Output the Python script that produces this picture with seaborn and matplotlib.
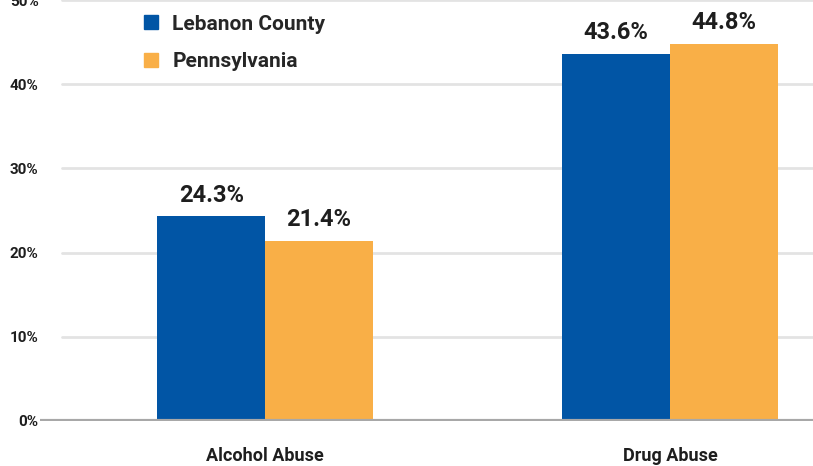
import matplotlib
matplotlib.use("Agg")
import matplotlib.pyplot as plt
import seaborn as sns
import pandas as pd
from matplotlib.lines import Line2D

categories = ["Alcohol Abuse", "Drug Abuse"]
regions = ["Lebanon County", "Pennsylvania"]
lebanon = [24.3, 43.6]
pennsylvania = [21.4, 44.8]
y_ticks = [0, 10, 20, 30, 40, 50]
colors = ["#0155A5", "#F9AF47"]

df = pd.DataFrame({
    "category": categories * 2,
    "region": [regions[0]] * len(categories) + [regions[1]] * len(categories),
    "value": lebanon + pennsylvania,
})

sns.set_style("white")
plt.rcParams["font.family"] = ["Roboto", "DejaVu Sans"]
plt.rcParams["font.weight"] = "bold"

fig = plt.figure(figsize=(8.13, 4.66), dpi=100)
ax = fig.add_axes([40 / 813, 45 / 466, 1 - 40 / 813, 421 / 466])

sns.barplot(data=df, x="category", y="value", hue="region", hue_order=regions,
            order=categories, palette=colors, width=0.533, saturation=1,
            linewidth=0, ax=ax, legend=False, zorder=3)

ax.set_ylim(0, 50)
ax.set_xlim(-0.556, 1.353)
ax.set_yticks(y_ticks)
ax.set_yticklabels([f"{t}%" for t in y_ticks], fontsize=11, fontweight="bold", color="#1e1e1e")
ax.tick_params(axis="y", length=0, pad=1)
ax.tick_params(axis="x", length=0, pad=19, labelsize=13)
for lbl in ax.get_xticklabels():
    lbl.set_fontweight("bold")
    lbl.set_color("#1e1e1e")
ax.set_xlabel("")
ax.set_ylabel("")
for s in ax.spines.values():
    s.set_visible(False)

# light horizontal gridlines, starting a bit right of the axis edge
for t in y_ticks[1:]:
    ax.axhline(t, xmin=22 / 773, xmax=1, color="#e3e3e3", lw=2, zorder=1)
ax.axhline(0, color="#a8a8a8", lw=3, zorder=4)

# value labels above bars
for cont in ax.containers:
    ax.bar_label(cont, labels=[f"{v:.1f}%" for v in cont.datavalues],
                 padding=7, fontsize=17, fontweight="bold", color="#1e1e1e")

handles = [Line2D([0], [0], marker="s", linestyle="", markersize=9.5,
                  markerfacecolor=c, markeredgecolor=c) for c in colors]
fig.legend(handles, regions, loc="upper left", bbox_to_anchor=(116 / 813, 1.0),
           frameon=False, handletextpad=0.0, labelspacing=0.9,
           prop={"weight": "bold", "size": 15}, borderaxespad=0.3)

fig.savefig("out.png", dpi=100)
